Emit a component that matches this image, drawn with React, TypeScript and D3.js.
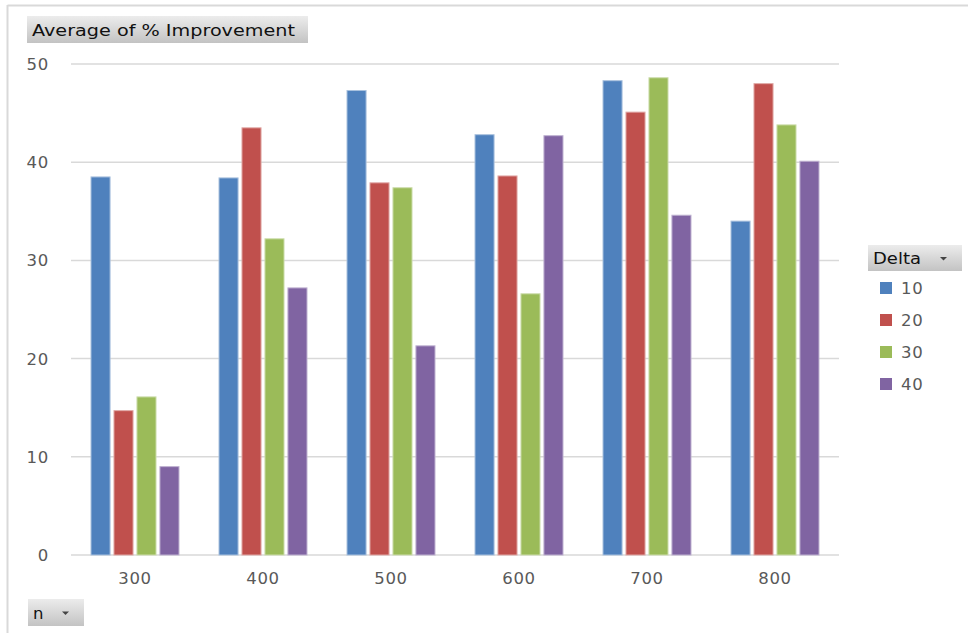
import React from "react";
import * as d3 from "d3";

// Pivot chart: Average of % Improvement by n, split by Delta
const categories = ["300", "400", "500", "600", "700", "800"];
const seriesNames = ["10", "20", "30", "40"];
const delta10 = [38.5, 38.4, 47.3, 42.8, 48.3, 34.0];
const delta20 = [14.7, 43.5, 37.9, 38.6, 45.1, 48.0];
const delta30 = [16.1, 32.2, 37.4, 26.6, 48.6, 43.8];
const delta40 = [9.0, 27.2, 21.3, 42.7, 34.6, 40.1];
const yTicks = [0, 10, 20, 30, 40, 50];

const seriesValues = [delta10, delta20, delta30, delta40];
const colors = ["#4F81BD", "#C0504D", "#9BBB59", "#8064A2"];
const strokes = ["#A9C1DE", "#E0A9A7", "#CDDDAD", "#BFB2D1"];

const W = 968;
const H = 633;
const FONT = "'DejaVu Sans', Verdana, sans-serif";

function DropButton({ x, y, w, h, label, labelWidth, arrow, id }: { x: number; y: number; w: number; h: number; label: string; labelWidth?: number; arrow: boolean; id: string }) {
  return (
    <g>
      <rect x={x} y={y} width={w} height={h} fill={`url(#${id})`} />
      <text
        x={x + 5}
        y={y + h / 2 + 6}
        fontFamily={FONT}
        fontSize={16.5}
        fill="#111"
        textLength={labelWidth}
        lengthAdjust={labelWidth ? "spacingAndGlyphs" : undefined}
      >
        {label}
      </text>
      {arrow && (
        <path
          d={`M${x + w - 22},${y + h / 2 - 1} l7,0 l-3.5,3.5 z`}
          fill="#444"
        />
      )}
    </g>
  );
}

export default function App() {
  const left = 71;
  const right = 839;
  const top = 64;
  const bottom = 555;

  const x0 = d3.scaleBand<string>().domain(categories).range([left, right]).padding(0);
  const x1 = d3
    .scaleBand<string>()
    .domain(seriesNames)
    .range([20, 108])
    .paddingInner(0.17)
    .paddingOuter(0);
  const y = d3.scaleLinear().domain([0, 50]).range([bottom, top]);

  const numStyle = { letterSpacing: "0.7px" };

  return (
    <svg
      width={W}
      height={H}
      style={{ position: "absolute", left: 0, top: 0, background: "#fff" }}
    >
      <defs>
        <linearGradient id="btnGrad" x1="0" y1="0" x2="0" y2="1">
          <stop offset="0" stopColor="#ececec" />
          <stop offset="1" stopColor="#c3c3c3" />
        </linearGradient>
      </defs>

      {/* chart frame */}
      <line x1={7.5} x2={W} y1={5.5} y2={5.5} stroke="#d9d9d9" strokeWidth={2} />
      <line x1={7.5} x2={7.5} y1={5} y2={H} stroke="#d9d9d9" strokeWidth={2} />

      {/* gridlines and y labels */}
      {yTicks.map((t) => (
        <g key={t}>
          <line x1={left} x2={right} y1={y(t)} y2={y(t)} stroke="#d9d9d9" strokeWidth={1.5} />
          <text
            x={49}
            y={y(t) + 6}
            textAnchor="end"
            fontFamily={FONT}
            fontSize={16.5}
            fill="#595959"
            style={numStyle}
          >
            {t}
          </text>
        </g>
      ))}

      {/* bars */}
      {categories.map((c, ci) => (
        <g key={c} transform={`translate(${x0(c)},0)`}>
          {seriesNames.map((s, si) => {
            const v = seriesValues[si][ci];
            return (
              <rect
                key={s}
                x={x1(s)}
                y={y(v)}
                width={x1.bandwidth()}
                height={y(0) - y(v)}
                fill={colors[si]}
                stroke={strokes[si]}
                strokeWidth={1}
              />
            );
          })}
          <text
            x={x0.bandwidth() / 2}
            y={584}
            textAnchor="middle"
            fontFamily={FONT}
            fontSize={16.5}
            fill="#595959"
            style={numStyle}
          >
            {c}
          </text>
        </g>
      ))}

      {/* title button */}
      <DropButton x={27} y={16} w={281} h={27} label="Average of % Improvement" labelWidth={263} arrow={false} id="btnGrad" />

      {/* legend */}
      <DropButton x={868} y={245} w={94} h={26} label="Delta" labelWidth={48} arrow={true} id="btnGrad" />
      {seriesNames.map((s, i) => (
        <g key={s} transform={`translate(880,${288 + i * 32})`}>
          <rect x={0} y={-6} width={12} height={12} fill={colors[i]} />
          <text x={21} y={6} fontFamily={FONT} fontSize={16.5} fill="#595959" style={numStyle}>
            {s}
          </text>
        </g>
      ))}

      {/* axis field button */}
      <DropButton x={28} y={599} w={56} h={27} label="n" arrow={true} id="btnGrad" />
    </svg>
  );
}
